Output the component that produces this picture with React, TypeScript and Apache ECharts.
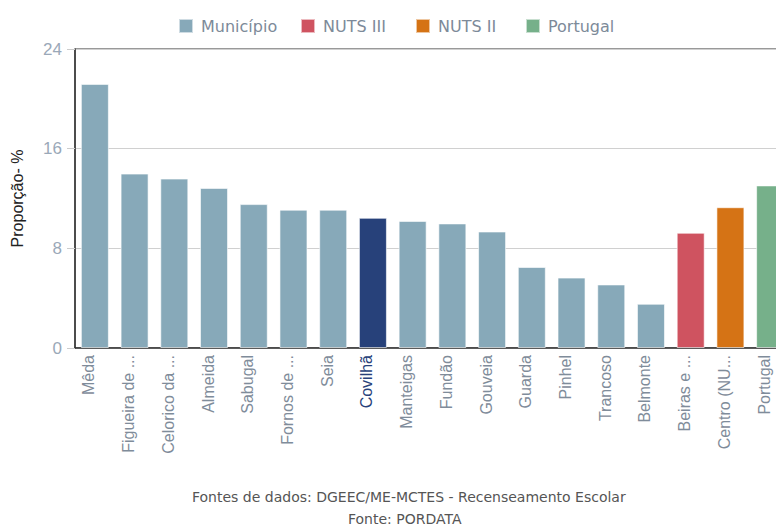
import React, { useEffect, useRef } from "react";
import * as echarts from "echarts";

const categories = [
  "Mêda", "Figueira de ...", "Celorico da ...", "Almeida", "Sabugal", "Fornos de ...",
  "Seia", "Covilhã", "Manteigas", "Fundão", "Gouveia", "Guarda", "Pinhel", "Trancoso",
  "Belmonte", "Beiras e ...", "Centro (NU...", "Portugal",
];
const groups = [
  "Município", "Município", "Município", "Município", "Município", "Município",
  "Município", "Município", "Município", "Município", "Município", "Município",
  "Município", "Município", "Município", "NUTS III", "NUTS II", "Portugal",
];
const values = [21.2, 14.0, 13.6, 12.85, 11.55, 11.1, 11.1, 10.45, 10.2, 10.0, 9.35, 6.5, 5.65, 5.1, 3.55, 9.25, 11.3, 13.05];
const seriesNames = ["Município", "NUTS III", "NUTS II", "Portugal"];
const seriesColors = ["#87a9b9", "#cf5360", "#d57315", "#76b08a"];
const highlight = "Covilhã";
const highlightColor = "#27417a";
const yTicks = { min: 0, max: 24, interval: 8 };
const footer = ["Fontes de dados: DGEEC/ME-MCTES - Recenseamento Escolar", "Fonte: PORDATA"];

const ARIAL = "Liberation Sans";
const VERDANA = "DejaVu Sans";
const legendLefts = [178, 300, 415, 525];

export default function App() {
  const ref = useRef<HTMLDivElement>(null);
  useEffect(() => {
    if (!ref.current) return;
    const chart = echarts.init(ref.current, null, { renderer: "svg" });
    const series = seriesNames.map((name, si) => ({
      name,
      type: "bar",
      stack: "all",
      barWidth: 28,
      itemStyle: { color: seriesColors[si], borderColor: "rgba(255,255,255,0.6)", borderWidth: 1 },
      data: values.map((v, i) => {
        if (groups[i] !== name) return "-";
        if (categories[i] === highlight) return { value: v, itemStyle: { color: highlightColor } };
        return v;
      }),
    }));
    chart.setOption({
      animation: false,
      legend: seriesNames.map((n, i) => ({
        top: 18,
        left: legendLefts[i],
        padding: 0,
        icon: "rect",
        itemWidth: 14,
        itemHeight: 14,
        textStyle: { color: "#7d8a99", fontSize: 16, fontFamily: VERDANA, padding: [0, 0, 0, 3] },
        data: [n],
      })),
      grid: {
        left: 75, top: 49, bottom: 179, right: -14,
        outerBoundsMode: "none", containLabel: false,
        show: true, borderColor: "#333", borderWidth: 1, backgroundColor: "transparent",
      },
      xAxis: {
        type: "category",
        data: categories,
        axisLine: { show: true, lineStyle: { color: "#333", width: 1.5 } },
        axisTick: { show: false },
        axisLabel: {
          rotate: 90,
          margin: 7,
          interval: 0,
          fontSize: 16,
          fontFamily: ARIAL,
          verticalAlign: "bottom",
          lineHeight: 12,
          color: (val: string) => (val === highlight ? highlightColor : "#7f8c9a"),
        },
      },
      yAxis: {
        type: "value",
        min: yTicks.min,
        max: yTicks.max,
        interval: yTicks.interval,
        name: "Proporção- %",
        nameLocation: "middle",
        nameGap: 50,
        nameRotate: 90,
        nameTextStyle: { color: "#222", fontSize: 16, fontFamily: ARIAL },
        axisLine: { show: true, lineStyle: { color: "#333", width: 1.5 } },
        axisTick: { show: true, length: 8, lineStyle: { color: "#ccc" } },
        axisLabel: { margin: 13, fontSize: 17, color: "#9aa8b8", fontFamily: ARIAL },
        splitLine: { lineStyle: { color: "#d0d0d0", width: 1 } },
      },
      graphic: [
        { type: "text", left: 192, top: 490, style: { text: footer[0], fill: "#555", fontSize: 14, fontFamily: VERDANA } },
        { type: "text", left: 348, top: 512, style: { text: footer[1], fill: "#555", fontSize: 14, fontFamily: VERDANA } },
      ],
      series,
    });
    return () => chart.dispose();
  }, []);
  return <div ref={ref} style={{ width: 776, height: 527, position: "absolute", left: 0, top: 0 }} />;
}
